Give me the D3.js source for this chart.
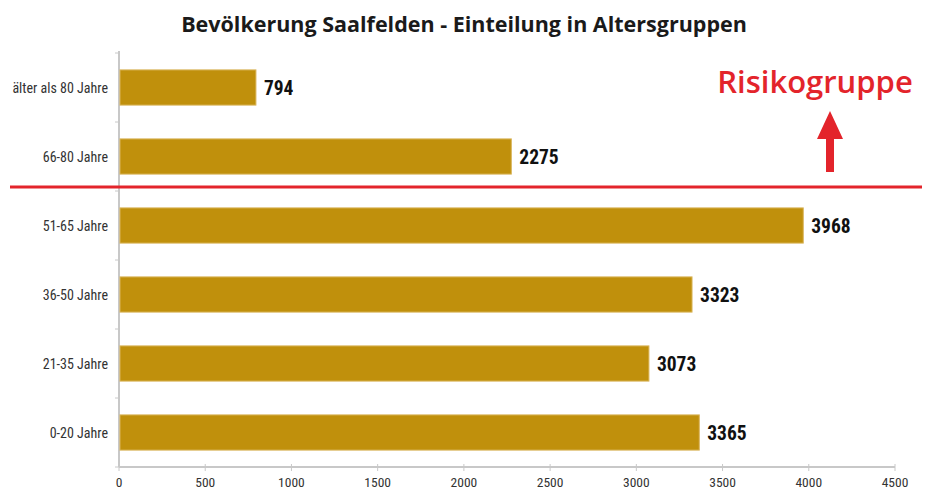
<!DOCTYPE html>
<html><head><meta charset="utf-8">
<script src="https://cdn.jsdelivr.net/npm/d3@7/dist/d3.min.js"></script>
<style>
body{margin:0;background:#fff;}
svg{display:block;}
</style></head>
<body>
<svg id="chart" width="929" height="488"></svg>
<script>
const categories = ["älter als 80 Jahre","66-80 Jahre","51-65 Jahre","36-50 Jahre","21-35 Jahre","0-20 Jahre"];
const values = [794, 2275, 3968, 3323, 3073, 3365];
const xTicks = [0,500,1000,1500,2000,2500,3000,3500,4000,4500];
const title = "Bevölkerung Saalfelden - Einteilung in Altersgruppen";
const annotation = "Risikogruppe";

(function(){
const svg = d3.select("#chart");
const mLeft = 119, mRight = 895, mTop = 53, mBottom = 467;
const x = d3.scaleLinear().domain([0,4500]).range([mLeft,mRight]);
const y = d3.scaleBand().domain(categories).range([mTop,mBottom]).paddingInner(0.49).paddingOuter(0.245);
const narrow = "'Liberation Sans Narrow','Arial Narrow','Roboto Condensed',sans-serif";

svg.append("text").attr("x",464).attr("y",32).attr("text-anchor","middle")
  .attr("font-family","'Open Sans',sans-serif").attr("font-weight",700).attr("font-size",21.5)
  .attr("fill","#1a1a1a").text(title);

svg.append("line").attr("x1",mLeft).attr("x2",mLeft).attr("y1",mTop-2).attr("y2",mBottom)
  .attr("stroke","#c8c8c8").attr("stroke-width",2);
const bounds = d3.range(categories.length+1).map(i=>mTop + i*(mBottom-mTop)/categories.length);
svg.selectAll(".yt").data(bounds).join("line").attr("x1",mLeft-4).attr("x2",mLeft).attr("y1",d=>d).attr("y2",d=>d)
  .attr("stroke","#c8c8c8").attr("stroke-width",1);

svg.append("line").attr("x1",mLeft).attr("x2",mRight).attr("y1",mBottom).attr("y2",mBottom)
  .attr("stroke","#c8c8c8").attr("stroke-width",2);
svg.selectAll(".xt").data(xTicks).join("line").attr("x1",d=>x(d)).attr("x2",d=>x(d)).attr("y1",mBottom-3).attr("y2",mBottom+4)
  .attr("stroke","#c8c8c8").attr("stroke-width",1);
svg.selectAll(".xl").data(xTicks).join("text").attr("x",d=>x(d)).attr("y",mBottom+19.5).attr("text-anchor","middle")
  .attr("font-family",narrow).attr("font-size",13.5).attr("fill","#333").text(d=>d);

svg.selectAll(".yl").data(categories).join("text").attr("x",108).attr("y",d=>y(d)+y.bandwidth()/2+5.5)
  .attr("text-anchor","end").attr("font-family",narrow).attr("font-size",14).attr("fill","#333").text(d=>d);

svg.selectAll(".bar").data(values).join("rect")
  .attr("x",x(0)+1).attr("y",(d,i)=>y(categories[i]))
  .attr("width",d=>x(d)-x(0)-1).attr("height",y.bandwidth())
  .attr("fill","#c0900c").attr("stroke","#d9b45a").attr("stroke-width",1);

svg.selectAll(".vl").data(values).join("text").attr("x",d=>x(d)+8).attr("y",(d,i)=>y(categories[i])+y.bandwidth()/2+7)
  .attr("font-family",narrow).attr("font-weight",700).attr("font-size",19.5).attr("fill","#111").text(d=>d);

svg.append("line").attr("x1",10).attr("x2",922).attr("y1",187).attr("y2",187)
  .attr("stroke","#e3242b").attr("stroke-width",3);

svg.append("text").attr("x",815).attr("y",93).attr("text-anchor","middle")
  .attr("font-family","'Open Sans',sans-serif").attr("font-weight",600).attr("font-size",31)
  .attr("fill","#e3242b").text(annotation);
svg.append("path").attr("d","M830,111 L843,139 L834,139 L834,172 L826,172 L826,139 L817,139 Z")
  .attr("fill","#e3242b");
})();
</script>
</body></html>
